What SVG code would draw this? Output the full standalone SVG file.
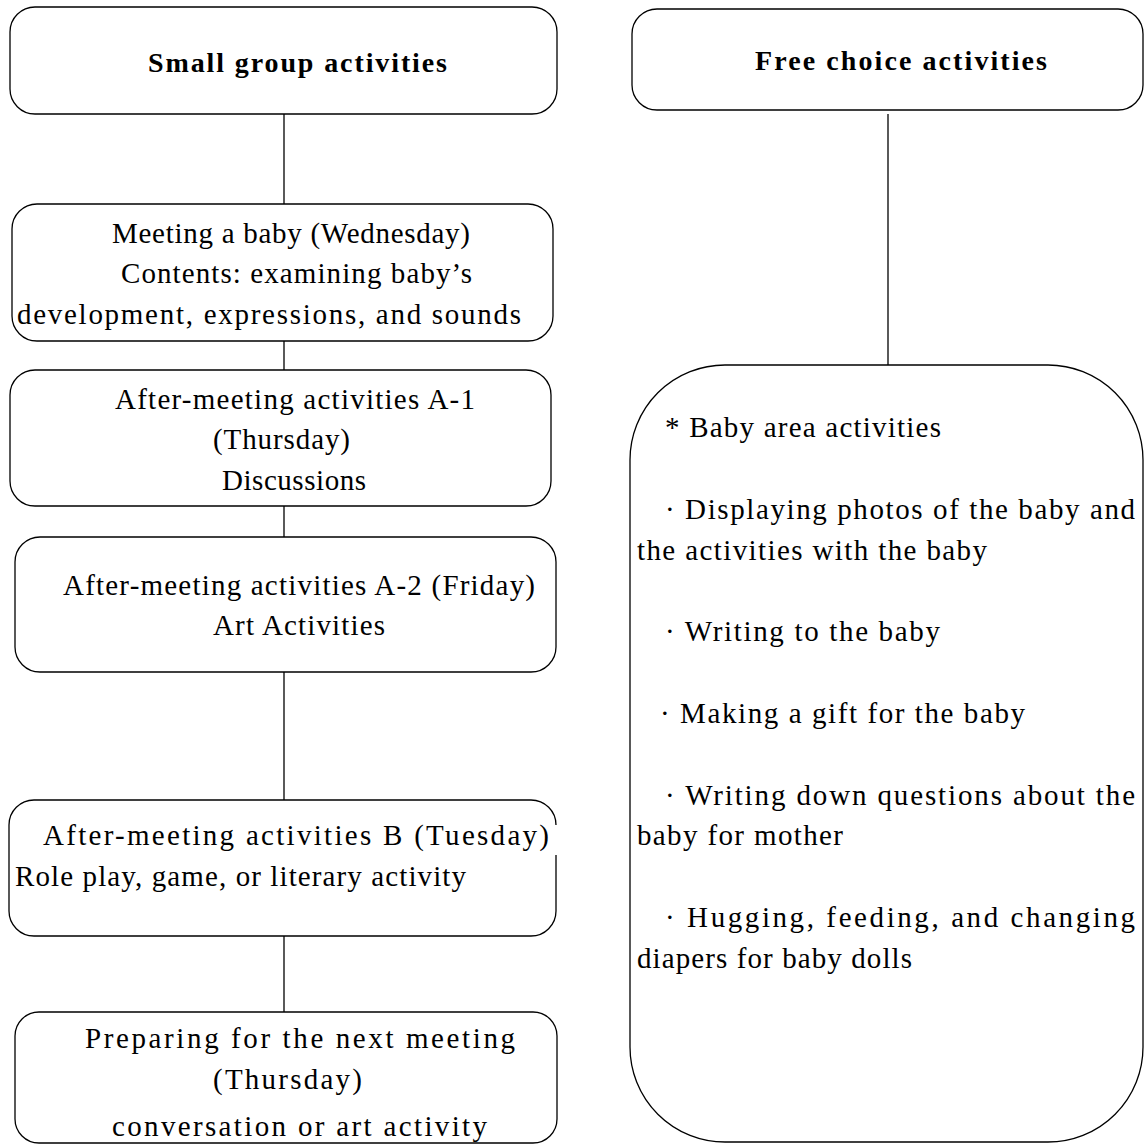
<svg xmlns="http://www.w3.org/2000/svg" width="1148" height="1144" viewBox="0 0 1148 1144">
<style>
.box{fill:#fff;stroke:#000;stroke-width:1.3}
.ln{stroke:#000;stroke-width:1.3;fill:none}
text{font-family:"Liberation Serif","Times New Roman",serif;font-size:29px;fill:#000}
.b{font-weight:bold;font-size:28px}
</style>
<rect width="1148" height="1144" fill="#fff"/>
<g id="connectors">
<line class="ln" x1="284" y1="114" x2="284" y2="204"/>
<line class="ln" x1="284" y1="341" x2="284" y2="370"/>
<line class="ln" x1="284" y1="506" x2="284" y2="537"/>
<line class="ln" x1="284" y1="672" x2="284" y2="800"/>
<line class="ln" x1="284" y1="936" x2="284" y2="1012"/>
<line class="ln" x1="888" y1="114" x2="888" y2="365"/>
</g>
<g id="small-group">
<rect class="box" x="10" y="7" width="547" height="107" rx="25"/>
<text class="b" x="148" y="72" textLength="299" lengthAdjust="spacing">Small group activities</text>
</g>
<g id="free-choice">
<rect class="box" x="632" y="9" width="511" height="101" rx="25"/>
<text class="b" x="755" y="70" textLength="292" lengthAdjust="spacing">Free choice activities</text>
</g>
<g id="meeting">
<rect class="box" x="12" y="204" width="541" height="137" rx="25"/>
<text x="112" y="243" textLength="358" lengthAdjust="spacing">Meeting a baby (Wednesday)</text>
<text x="121" y="283" textLength="351" lengthAdjust="spacing">Contents: examining baby’s</text>
<text x="17" y="324" textLength="504" lengthAdjust="spacing">development, expressions, and sounds</text>
</g>
<g id="a1">
<rect class="box" x="10" y="370" width="541" height="136" rx="25"/>
<text x="115" y="409" textLength="360" lengthAdjust="spacing">After-meeting activities A-1</text>
<text x="213" y="449" textLength="137" lengthAdjust="spacing">(Thursday)</text>
<text x="222" y="490" textLength="144" lengthAdjust="spacing">Discussions</text>
</g>
<g id="a2">
<rect class="box" x="15" y="537" width="541" height="135" rx="25"/>
<text x="63" y="595" textLength="472" lengthAdjust="spacing">After-meeting activities A-2 (Friday)</text>
<text x="213" y="635" textLength="172" lengthAdjust="spacing">Art Activities</text>
</g>
<g id="b">
<path class="box" d="M556,855 V911 A25,25 0 0 1 531,936 H34 A25,25 0 0 1 9,911 V825 A25,25 0 0 1 34,800 H531 A25,25 0 0 1 556,825"/>
<text x="43" y="845" textLength="506" lengthAdjust="spacing">After-meeting activities B (Tuesday)</text>
<text x="15" y="886" textLength="451" lengthAdjust="spacing">Role play, game, or literary activity</text>
</g>
<g id="prepare">
<rect class="box" x="15" y="1012" width="542" height="131" rx="24"/>
<text x="85" y="1048" textLength="430" lengthAdjust="spacing">Preparing for the next meeting</text>
<text x="213" y="1089" textLength="149" lengthAdjust="spacing">(Thursday)</text>
<text x="112" y="1136" textLength="375" lengthAdjust="spacing">conversation or art activity</text>
</g>
<g id="baby-area">
<rect class="box" x="630" y="365" width="513" height="777" rx="95"/>
<text x="665" y="437" textLength="276" lengthAdjust="spacing">* Baby area activities</text>
<text x="665" y="519" textLength="470" lengthAdjust="spacing">· Displaying photos of the baby and</text>
<text x="637" y="560" textLength="350" lengthAdjust="spacing">the activities with the baby</text>
<text x="665" y="641" textLength="275" lengthAdjust="spacing">· Writing to the baby</text>
<text x="660" y="723" textLength="365" lengthAdjust="spacing">· Making a gift for the baby</text>
<text x="665" y="805" textLength="470" lengthAdjust="spacing">· Writing down questions about the</text>
<text x="637" y="845" textLength="206" lengthAdjust="spacing">baby for mother</text>
<text x="665" y="927" textLength="470" lengthAdjust="spacing">· Hugging, feeding, and changing</text>
<text x="637" y="968" textLength="275" lengthAdjust="spacing">diapers for baby dolls</text>
</g>
</svg>
